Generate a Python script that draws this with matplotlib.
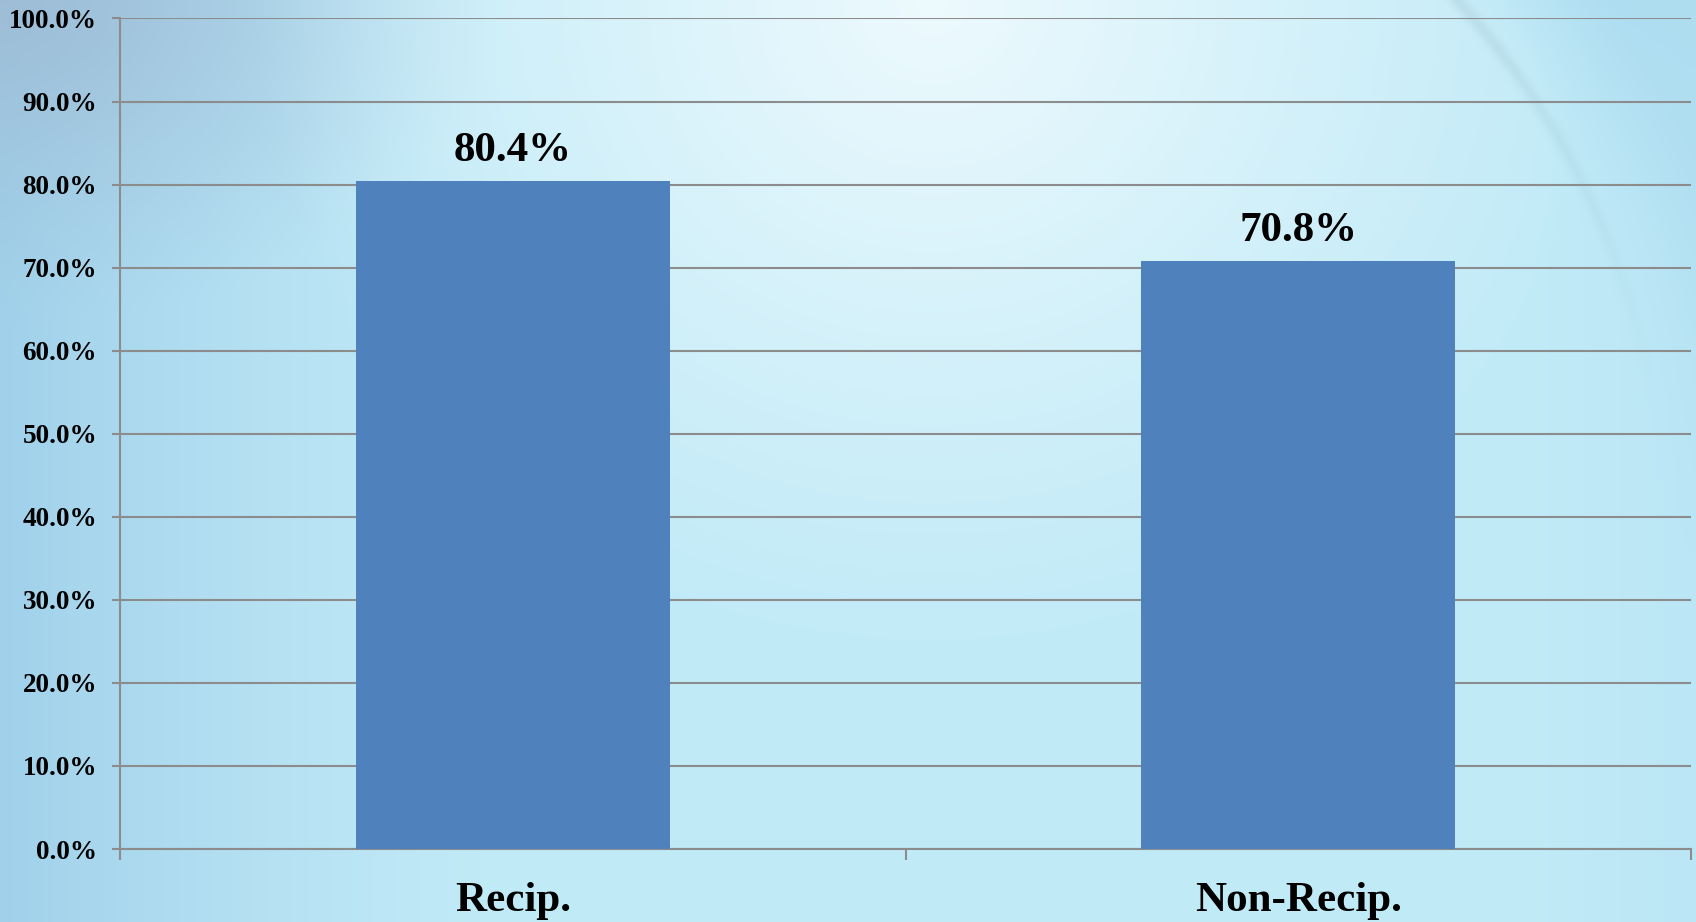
import numpy as np
import matplotlib.pyplot as plt

# data
categories = ["Recip.", "Non-Recip."]
values = [80.4, 70.8]
ytick_values = [0, 10, 20, 30, 40, 50, 60, 70, 80, 90, 100]

bar_color = "#4F81BD"
grid_color = "#8C8C8C"

fig = plt.figure(figsize=(16.96, 9.22), dpi=100)

# soft blue slide background
W, H = 424, 230
xx, yy = np.meshgrid(np.linspace(0, 1, W), np.linspace(0, 1, H))
base = np.array([0.76, 0.92, 0.97])
left_col = np.array([0.63, 0.82, 0.92])
corner_col = np.array([0.62, 0.74, 0.84])
white = np.array([0.93, 0.98, 0.995])
right_col = np.array([0.67, 0.86, 0.94])

img = np.ones((H, W, 3)) * base
# darker blue on the left edge
t_left = np.clip(1 - xx / 0.3, 0, 1) ** 1.3
img = img * (1 - t_left[..., None]) + left_col * t_left[..., None]
# greyer at the top-left corner
dc = np.sqrt((xx / 0.3) ** 2 + (yy / 0.35) ** 2)
t_corner = np.clip(1 - dc, 0, 1) ** 1.2
img = img * (1 - t_corner[..., None]) + corner_col * t_corner[..., None]
# bright blob near top centre
d = np.sqrt(((xx - 0.55) / 0.4) ** 2 + ((yy - 0.0) / 0.7) ** 2)
t_white = np.clip(1 - d, 0, 1) ** 1.1
img = img * (1 - t_white[..., None]) + white * t_white[..., None]
# swirl on the right: outside a circle gets darker blue
px, py = xx * 1696, yy * 922
r = np.sqrt((px - 880) ** 2 + (py - 530) ** 2)
t_right = np.clip((r - 780) / 120, 0, 1) * np.clip(1 - yy / 0.6, 0, 1) ** 0.5
t_right = t_right * (px > 1300)
img = img * (1 - 0.8 * t_right[..., None]) + right_col * 0.8 * t_right[..., None]
edge = np.exp(-((r - 785) / 6) ** 2) * (px > 1400) * np.clip(1 - yy / 0.45, 0, 1)
img = img - 0.06 * edge[..., None]
# darker right edge lower down
t_re = np.clip((xx - 0.9) / 0.1, 0, 1) * 0.3
img = img * (1 - t_re[..., None]) + right_col * t_re[..., None]
img = np.clip(img, 0, 1)

bg = fig.add_axes([0, 0, 1, 1], zorder=0)
bg.imshow(img, aspect="auto", extent=[0, 1, 0, 1], interpolation="bicubic")
bg.axis("off")

ax = fig.add_axes([120 / 1696, 73 / 922, 1571 / 1696, 830.5 / 922], zorder=1)
ax.patch.set_alpha(0)

x = np.arange(len(categories))
ax.bar(x, values, width=0.4, color=bar_color, zorder=3)

for xi, v in zip(x, values):
    ax.text(xi, v + 2.4, f"{v:.1f}%", ha="center", va="baseline",
            fontsize=31, fontweight="bold", family="Liberation Serif")

ax.set_xlim(-0.5, len(categories) - 0.5)
ax.set_ylim(0, 100)

ax.set_yticks(ytick_values)
ax.set_yticklabels([f"{v:.1f}%" for v in ytick_values],
                   fontsize=19.5, fontweight="bold", family="Liberation Serif")
ax.tick_params(axis="y", length=6, width=1.5, color=grid_color, pad=10.5)
ax.yaxis.grid(True, color=grid_color, linewidth=1.5, zorder=1)
ax.set_axisbelow(True)

ax.set_xticks(np.arange(-0.5, len(categories), 1.0))
ax.set_xticklabels([])
ax.tick_params(axis="x", which="major", length=8, width=1.5, color=grid_color)
ax.set_xticks(x, minor=True)
ax.set_xticklabels(categories, minor=True, fontsize=31, fontweight="bold",
                   family="Liberation Serif")
ax.tick_params(axis="x", which="minor", length=0, pad=24)

for side in ["top", "right"]:
    ax.spines[side].set_visible(False)
for side in ["left", "bottom"]:
    ax.spines[side].set_color(grid_color)
    ax.spines[side].set_linewidth(1.5)

fig.savefig("out.png", dpi=100)
